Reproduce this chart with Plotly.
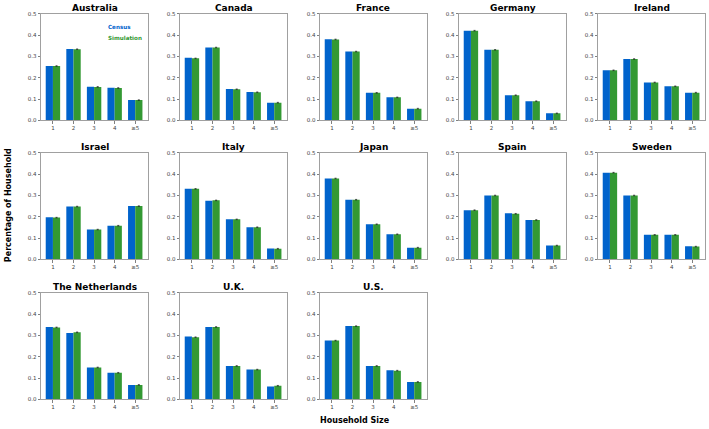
import plotly.graph_objects as go

categories = ["1", "2", "3", "4", "≥5"]
countries = ["Australia", "Canada", "France", "Germany", "Ireland",
             "Israel", "Italy", "Japan", "Spain", "Sweden",
             "The Netherlands", "U.K.", "U.S."]

census_australia = [0.255, 0.335, 0.158, 0.153, 0.095]
sim_australia = [0.255, 0.334, 0.157, 0.152, 0.095]
census_canada = [0.294, 0.342, 0.147, 0.133, 0.083]
sim_canada = [0.291, 0.342, 0.146, 0.132, 0.083]
census_france = [0.381, 0.323, 0.129, 0.108, 0.055]
sim_france = [0.380, 0.323, 0.129, 0.108, 0.055]
census_germany = [0.421, 0.331, 0.118, 0.090, 0.033]
sim_germany = [0.421, 0.331, 0.118, 0.090, 0.033]
census_ireland = [0.235, 0.288, 0.178, 0.160, 0.130]
sim_ireland = [0.235, 0.288, 0.178, 0.160, 0.130]
census_israel = [0.198, 0.248, 0.140, 0.158, 0.250]
sim_israel = [0.196, 0.248, 0.140, 0.158, 0.250]
census_italy = [0.331, 0.275, 0.188, 0.151, 0.051]
sim_italy = [0.331, 0.277, 0.188, 0.151, 0.050]
census_japan = [0.380, 0.280, 0.165, 0.118, 0.055]
sim_japan = [0.380, 0.280, 0.165, 0.118, 0.055]
census_spain = [0.231, 0.300, 0.216, 0.185, 0.065]
sim_spain = [0.231, 0.300, 0.214, 0.185, 0.065]
census_sweden = [0.407, 0.300, 0.115, 0.115, 0.062]
sim_sweden = [0.407, 0.300, 0.115, 0.115, 0.060]
census_netherlands = [0.340, 0.312, 0.150, 0.125, 0.067]
sim_netherlands = [0.338, 0.315, 0.150, 0.125, 0.068]
census_uk = [0.295, 0.340, 0.157, 0.140, 0.060]
sim_uk = [0.292, 0.340, 0.157, 0.140, 0.064]
census_us = [0.276, 0.344, 0.157, 0.137, 0.082]
sim_us = [0.276, 0.344, 0.157, 0.135, 0.082]
sim_err = [0.0015, 0.0015, 0.0015, 0.0015, 0.0015]

census = [census_australia, census_canada, census_france, census_germany, census_ireland,
          census_israel, census_italy, census_japan, census_spain, census_sweden,
          census_netherlands, census_uk, census_us]
simulation = [sim_australia, sim_canada, sim_france, sim_germany, sim_ireland,
              sim_israel, sim_italy, sim_japan, sim_spain, sim_sweden,
              sim_netherlands, sim_uk, sim_us]

W, H = 709, 429
col_left = [41, 180, 320, 459, 598]
col_w = 107
row_top = [11, 152, 294]
row_h = 108

BLUE = "#0063cc"
GREEN = "#339933"
FONT = "DejaVu Sans"

fig = go.Figure()
annotations = []
for i, name in enumerate(countries):
    r, c = divmod(i, 5)
    n = i + 1
    xa = "x" if n == 1 else f"x{n}"
    ya = "y" if n == 1 else f"y{n}"
    fig.add_trace(go.Bar(x=categories, y=census[i], name="Census",
                         marker=dict(color=BLUE, line=dict(width=0)),
                         xaxis=xa, yaxis=ya, showlegend=False))
    fig.add_trace(go.Bar(x=categories, y=simulation[i], name="Simulation",
                         marker=dict(color=GREEN, line=dict(width=0)),
                         error_y=dict(type="data", array=sim_err, color="#222222",
                                      thickness=0.6, width=1),
                         xaxis=xa, yaxis=ya, showlegend=False))
    x0 = col_left[c] / W
    x1 = (col_left[c] + col_w) / W
    y1 = 1 - row_top[r] / H
    y0 = 1 - (row_top[r] + row_h) / H
    axis_common = dict(showline=True, linecolor="#a0a0a0", linewidth=1, mirror=True,
                       showgrid=False, zeroline=False, ticks="outside", ticklen=2.5,
                       tickcolor="#808080", tickwidth=0.8,
                       tickfont=dict(family=FONT, size=5.5, color="#444444"))
    fig.layout[f"xaxis{n if n > 1 else ''}"] = dict(domain=[x0, x1], anchor=ya,
                                                     range=[-0.58, 4.62], type="category",
                                                     **axis_common)
    fig.layout[f"yaxis{n if n > 1 else ''}"] = dict(domain=[y0, y1], anchor=xa,
                                                     range=[0, 0.5], tickvals=[0, 0.1, 0.2, 0.3, 0.4, 0.5],
                                                     ticktext=["0.0", "0.1", "0.2", "0.3", "0.4", "0.5"],
                                                     **axis_common)
    annotations.append(dict(text=f"<b>{name}</b>", x=(x0 + x1) / 2, y=y1, xref="paper", yref="paper",
                            xanchor="center", yanchor="bottom", yshift=-1, showarrow=False,
                            font=dict(family=FONT, size=9, color="black")))

annotations.append(dict(text="<b>Census</b>", x=106 / W, y=1 - 24 / H, xref="paper", yref="paper",
                        xanchor="left", yanchor="middle", showarrow=False,
                        font=dict(family=FONT, size=5.6, color=BLUE)))
annotations.append(dict(text="<b>Simulation</b>", x=106 / W, y=1 - 35 / H, xref="paper", yref="paper",
                        xanchor="left", yanchor="middle", showarrow=False,
                        font=dict(family=FONT, size=5.6, color=GREEN)))
annotations.append(dict(text="<b>Percentage of Household</b>", x=8 / W, y=1 - 205 / H,
                        xref="paper", yref="paper", xanchor="center", yanchor="middle",
                        textangle=-90, showarrow=False,
                        font=dict(family=FONT, size=8, color="black")))
annotations.append(dict(text="<b>Household Size</b>", x=355 / W, y=1 - 423 / H,
                        xref="paper", yref="paper", xanchor="center", yanchor="middle",
                        showarrow=False, font=dict(family=FONT, size=8, color="black")))

fig.update_layout(width=W, height=H, margin=dict(l=0, r=0, t=0, b=0),
                  paper_bgcolor="white", plot_bgcolor="white",
                  barmode="group", bargap=0.3, bargroupgap=0,
                  annotations=annotations, showlegend=False)

fig.write_html("out.html")
